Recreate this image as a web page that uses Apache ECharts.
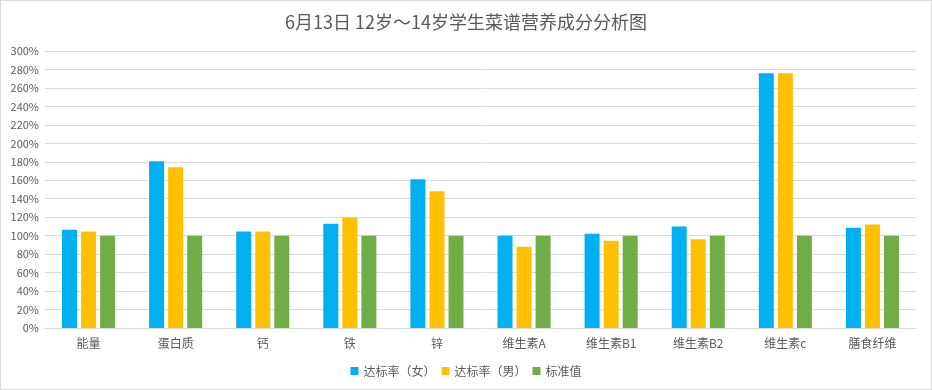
<!DOCTYPE html>
<html><head><meta charset="utf-8">
<script src="https://cdn.jsdelivr.net/npm/echarts@6/dist/echarts.min.js"></script>
<style>html,body{margin:0;padding:0;background:#fff}#c{width:930px;height:388px;border:1px solid #d9d9d9}</style>
</head><body><div id="c"></div>
<script>
var categories = ['能量','蛋白质','钙','铁','锌','维生素A','维生素B1','维生素B2','维生素c','膳食纤维'];
var female = [106.5,180.5,104.5,113,161,100,102,110,276,108.5];
var male = [104.5,174,104.5,119.5,148,88,94.5,96,276,112];
var standard = [100,100,100,100,100,100,100,100,100,100];
var seriesNames = ['达标率（女）','达标率（男）','标准值'];
var colors = ['#00B0F0','#FFC000','#70AD47'];
var chart = echarts.init(document.getElementById('c'));
var font = 'Noto Sans CJK SC, sans-serif';
function mk(name, data, color){
  return {name:name,type:'bar',data:data,barWidth:15,barGap:'27%',itemStyle:{color:color}};
}
chart.setOption({
  animation:false,
  title:{text:'6月13日 12岁～14岁学生菜谱营养成分分析图',left:'center',top:7,
    textStyle:{color:'#595959',fontSize:18,fontWeight:'normal',fontFamily:font}},
  legend:{bottom:7,left:'center',itemWidth:8,itemHeight:8,itemGap:6,icon:'rect',
    textStyle:{color:'#595959',fontSize:12,fontFamily:font},data:seriesNames},
  grid:{left:44,right:15,top:50,bottom:61,containLabel:false},
  xAxis:{type:'category',data:categories,
    axisLine:{lineStyle:{color:'#d9d9d9'}},axisTick:{show:false},
    axisLabel:{color:'#595959',fontSize:12,fontFamily:font,margin:9}},
  yAxis:{type:'value',min:0,max:300,interval:20,
    axisLine:{show:false},axisTick:{show:false},
    splitLine:{lineStyle:{color:'#d9d9d9'}},
    axisLabel:{color:'#595959',fontSize:11,fontFamily:font,formatter:'{value}%',margin:6}},
  series:[mk(seriesNames[0],female,colors[0]),mk(seriesNames[1],male,colors[1]),mk(seriesNames[2],standard,colors[2])]
});
</script></body></html>
